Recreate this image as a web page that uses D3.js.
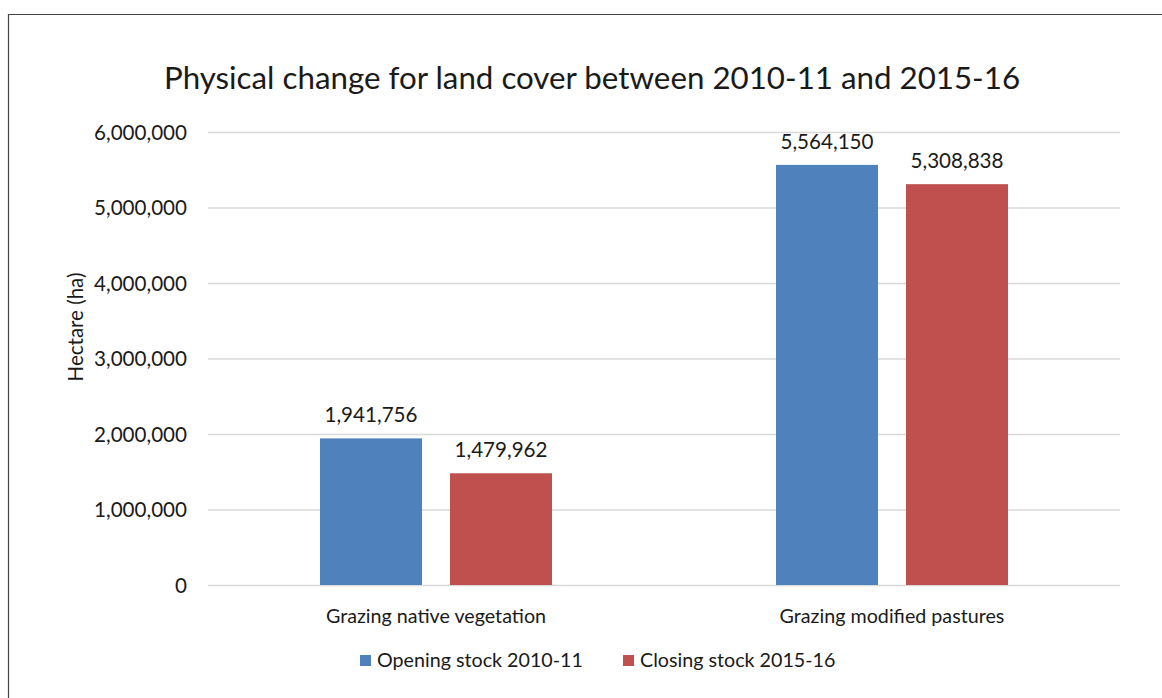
<!DOCTYPE html>
<html><head><meta charset="utf-8">
<script src="https://cdn.jsdelivr.net/npm/d3@7"></script>
<style>body{margin:0;background:#fff}svg{display:block}text{font-family:Lato,"Open Sans",sans-serif;fill:#1a1a1a}</style>
</head><body>
<svg id="c" width="1162" height="698"></svg>
<script>
const categories = ["Grazing native vegetation", "Grazing modified pastures"];
const seriesNames = ["Opening stock 2010-11", "Closing stock 2015-16"];
const openingStock = [1941756, 5564150];
const closingStock = [1479962, 5308838];
const yTicks = [0, 1000000, 2000000, 3000000, 4000000, 5000000, 6000000];
const colors = ["#4F81BD", "#C0504D"];

const svg = d3.select("#c");
// frame
svg.append("path").attr("d","M8.5,698 V14.5 H1162").attr("fill","none").attr("stroke","#444").attr("stroke-width",1.2);

const pLeft=208, pRight=1120, pTop=132, pBottom=585;
const y = d3.scaleLinear().domain([0,6000000]).range([pBottom, pTop]);
const x0 = d3.scaleBand().domain(categories).range([pLeft,pRight]).padding(0);
const x1 = d3.scaleBand().domain(seriesNames).range([0,232]).paddingInner(0.2154);
const fmt = d3.format(",");
const numSize = "20.6px", txtSize = "19.7px";

// gridlines + axis
const yAxis = d3.axisLeft(y).tickValues(yTicks).tickSize(-(pRight-pLeft)).tickFormat(d=>fmt(d)).tickPadding(21);
const g = svg.append("g").attr("transform",`translate(${pLeft},0)`).call(yAxis);
g.select(".domain").remove();
g.selectAll(".tick line").attr("stroke","#d9d9d9").attr("stroke-width",1.3);
g.selectAll(".tick text").style("font-size",numSize).attr("fill","#1a1a1a").attr("dy","0.36em");

const data = categories.map((c,i)=>({cat:c, vals:[openingStock[i], closingStock[i]]}));
const grp = svg.selectAll(".grp").data(data).join("g")
  .attr("transform", d=>`translate(${x0(d.cat)+x0.bandwidth()/2-116},0)`);
grp.selectAll("rect").data(d=>d.vals.map((v,j)=>({v,s:seriesNames[j],j}))).join("rect")
  .attr("x",d=>x1(d.s)).attr("width",x1.bandwidth())
  .attr("y",d=>y(d.v)).attr("height",d=>y(0)-y(d.v)).attr("fill",d=>colors[d.j]);
grp.selectAll("text.lbl").data(d=>d.vals.map((v,j)=>({v,s:seriesNames[j],j}))).join("text")
  .attr("class","lbl").attr("x",d=>x1(d.s)+x1.bandwidth()/2).attr("y",d=>y(d.v)-16)
  .attr("text-anchor","middle").style("font-size",numSize).text(d=>fmt(d.v));

// x labels
const xAxis = d3.axisBottom(x0).tickSize(0).tickPadding(0);
const gx = svg.append("g").attr("transform",`translate(0,${pBottom})`).call(xAxis);
gx.select(".domain").remove();
gx.selectAll(".tick text").style("font-size",txtSize).attr("fill","#1a1a1a").attr("y",38).attr("dy",0);

// title
svg.append("text").attr("x",592).attr("y",89).attr("text-anchor","middle").style("font-size","31.3px").text("Physical change for land cover between 2010-11 and 2015-16");
// y title
svg.append("text").attr("transform","translate(83,327) rotate(-90)").attr("text-anchor","middle").style("font-size","20.5px").text("Hectare (ha)");

// legend
const legX=[360,623];
const lg = svg.selectAll(".leg").data(seriesNames).join("g").attr("transform",(d,i)=>`translate(${legX[i]},655)`);
lg.append("rect").attr("width",11).attr("height",11).attr("fill",(d,i)=>colors[i]);
lg.append("text").attr("x",17).attr("y",11.5).style("font-size",txtSize).text(d=>d);
</script>
</body></html>
